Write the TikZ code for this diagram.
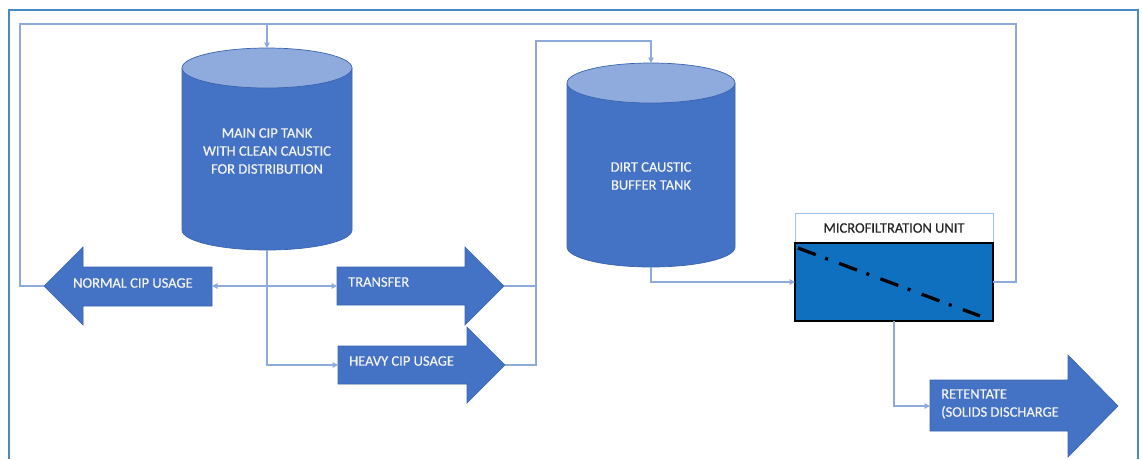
\documentclass[tikz,border=0pt]{standalone}
\usepackage{fontspec}
\setmainfont{Carlito}
\newfontfamily\lblfont{Carlito}[FakeBold=0.5]
\usetikzlibrary{arrows.meta}
\definecolor{tankbody}{HTML}{4472C4}
\definecolor{tankcap}{HTML}{8FAADC}
\definecolor{tankedge}{HTML}{3A64B0}
\definecolor{connc}{HTML}{8EAADB}
\definecolor{framec}{HTML}{4A89C8}
\definecolor{mfblue}{HTML}{1070C0}
\definecolor{mfedge}{HTML}{9DC3E6}
\definecolor{wtext}{HTML}{F4F4F4}
\begin{document}
\begin{tikzpicture}[x=1pt,y=-1pt,
  conn/.style={draw=connc, line width=1.1pt},
  arr/.style={conn, -{Triangle[width=5.5pt,length=5.5pt]}},
  blockarrow/.style={fill=tankbody, draw=tankedge, line width=0.6pt},
  tankfill/.style={fill=tankbody},
  tankline/.style={draw=tankedge, line width=0.7pt},
  lbl/.style={text=wtext, font=\lblfont\fontsize{14.5}{18}\selectfont, inner sep=0pt},
  anchorbox/.style={inner sep=0pt, outer sep=0pt},
]
\useasboundingbox (0,0) rectangle (1142,459);
\fill[white] (0,0) rectangle (1142,459);
\draw[framec, line width=1.6pt] (9,459) -- (9,10) -- (1138,10) -- (1138,459);

% ---------- main CIP tank ----------
\fill[tankfill] (182,68) -- (182,230) arc[start angle=180,end angle=360,x radius=85pt,y radius=20pt] -- (352,68) -- cycle;
\draw[tankline] (182,68) -- (182,230) arc[start angle=180,end angle=360,x radius=85pt,y radius=20pt] -- (352,68);
\filldraw[fill=tankcap, tankline] (267,68) ellipse[x radius=85pt, y radius=20pt];
\node[anchorbox, minimum width=170pt, minimum height=202pt] (mainTank) at (267,149) {};
\node[lbl, align=center] (mainTxt) at (267,151) {MAIN CIP TANK\\WITH CLEAN CAUSTIC\\FOR DISTRIBUTION};

% ---------- dirt caustic buffer tank ----------
\fill[tankfill] (567,83) -- (567,247) arc[start angle=180,end angle=360,x radius=84pt,y radius=20pt] -- (735,83) -- cycle;
\draw[tankline] (567,83) -- (567,247) arc[start angle=180,end angle=360,x radius=84pt,y radius=20pt] -- (735,83);
\filldraw[fill=tankcap, tankline] (651,83) ellipse[x radius=84pt, y radius=20pt];
\node[anchorbox, minimum width=168pt, minimum height=204pt] (dirtTank) at (651,165) {};
\node[lbl, align=center] (dirtTxt) at (651,176) {DIRT CAUSTIC\\BUFFER TANK};

% ---------- block arrows ----------
\filldraw[blockarrow] (44,286) -- (83,247) -- (83,267) -- (212,267) -- (212,306) -- (83,306) -- (83,325) -- cycle;
\coordinate (normalTip) at (44,286);
\coordinate (normalTail) at (212,286);
\node[lbl, anchor=west] (normalTxt) at (73,283) {NORMAL CIP USAGE};

\filldraw[blockarrow] (337,267) -- (465,267) -- (465,247) -- (504,286) -- (465,325) -- (465,305) -- (337,305) -- cycle;
\coordinate (transferTail) at (337,286);
\coordinate (transferTip) at (504,286);
\node[lbl, anchor=west] (transferTxt) at (348,282) {TRANSFER};

\filldraw[blockarrow] (338,346) -- (467,346) -- (467,327) -- (505,365) -- (467,403) -- (467,384) -- (338,384) -- cycle;
\coordinate (heavyTail) at (338,365);
\coordinate (heavyTip) at (505,365);
\node[lbl, anchor=west] (heavyTxt) at (349,361) {HEAVY CIP USAGE};

\filldraw[blockarrow] (930,380) -- (1068,380) -- (1068,355) -- (1118,406) -- (1068,457) -- (1068,431) -- (930,431) -- cycle;
\coordinate (retTail) at (930,406);
\node[lbl, anchor=west, align=left] (retTxt) at (941,404) {RETENTATE\\(SOLIDS DISCHARGE};

% ---------- microfiltration unit ----------
\draw[mfedge, line width=1pt, fill=white] (795,213) rectangle (993,321);
\node[inner sep=0pt, text=black!85, font=\lblfont\fontsize{14.5}{18}\selectfont] (mfTitle) at (894,228) {MICROFILTRATION UNIT};
\node[anchorbox, draw=black, line width=1.5pt, fill=mfblue, minimum width=198pt, minimum height=78pt] (mfBody) at (894,282) {};
\draw[black, line width=3.3pt, dash pattern=on 19pt off 10pt on 3pt off 12pt] (798,248) -- (980,316);

% ---------- connectors ----------
\coordinate (loopTL) at (20,24);
\coordinate (loopTR) at (1016,24);
\coordinate (busTop) at (536,41);
\draw[conn] (mfBody.east) -| (loopTR) -- (loopTL) |- (normalTip);
\draw[arr] (mainTank.north |- loopTL) -- (mainTank.north);
\draw[arr] (mainTank.south) |- (heavyTail);
\draw[arr] (mainTank.south |- normalTail) -- (normalTail);
\draw[arr] (mainTank.south |- transferTail) -- (transferTail);
\draw[conn] (transferTip) -- (transferTip -| busTop);
\draw[arr] (heavyTip) -| (busTop) -| (dirtTank.north);
\draw[arr] (dirtTank.south) |- (mfBody.west);
\draw[arr] (mfBody.south) |- (retTail);
\end{tikzpicture}
\end{document}
